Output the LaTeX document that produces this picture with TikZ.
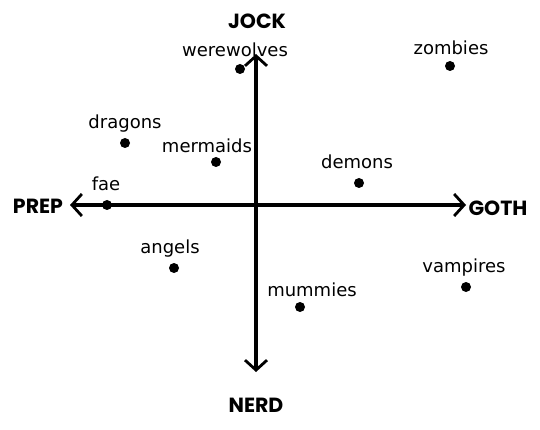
\documentclass[tikz,border=0pt]{standalone}
\usepackage{fontspec}
\setmainfont{DejaVu Sans}
\newfontfamily\axisfont{Poppins}
\usetikzlibrary{arrows.meta}
\tikzset{
  axisline/.style={line width=3.2pt, -{Straight Barb[length=10pt,width=22pt,line width=2.8pt]}},
  pt/.style={circle, fill=black, inner sep=0pt, minimum size=10pt},
  lbl/.style={font=\fontsize{18}{20}\selectfont, inner sep=0pt, anchor=base},
  axlbl/.style={font=\axisfont\bfseries\fontsize{20.5}{22}\selectfont, inner sep=0pt}
}
\begin{document}
\begin{tikzpicture}[x=1pt,y=-1pt]
\useasboundingbox (0,0) rectangle (540,430);
\coordinate (o) at (256,205);
\coordinate (l) at (70,205);
\coordinate (r) at (466,205);
\coordinate (t) at (256,54);
\coordinate (b) at (256,372);
\draw[axisline] (o) -- (l);
\draw[axisline] (o) -- (r);
\draw[axisline] (o) -- (t);
\draw[axisline] (o) -- (b);
\node[axlbl] (jock) at (257,21) {JOCK};
\node[axlbl] (nerd) at (256,405) {NERD};
\node[axlbl] (prep) at (38,206) {PREP};
\node[axlbl] (goth) at (498,208) {GOTH};

\node[pt] (werewolves) at (240,69) {};
\node[lbl] (werewolvesL) at (235,57) {werewolves};
\node[pt] (zombies) at (450,66) {};
\node[lbl] (zombiesL) at (451,55) {zombies};
\node[pt] (dragons) at (125,143) {};
\node[lbl] (dragonsL) at (125,129) {dragons};
\node[pt] (mermaids) at (216,162) {};
\node[lbl] (mermaidsL) at (207,153) {mermaids};
\node[pt] (fae) at (107,205) {};
\node[lbl] (faeL) at (106,191) {fae};
\node[pt] (demons) at (359,183) {};
\node[lbl] (demonsL) at (357,169) {demons};
\node[pt] (angels) at (174,268) {};
\node[lbl] (angelsL) at (170,253) {angels};
\node[pt] (vampires) at (466,287) {};
\node[lbl] (vampiresL) at (464,272) {vampires};
\node[pt] (mummies) at (300,307) {};
\node[lbl] (mummiesL) at (312,296) {mummies};
\end{tikzpicture}
\end{document}
